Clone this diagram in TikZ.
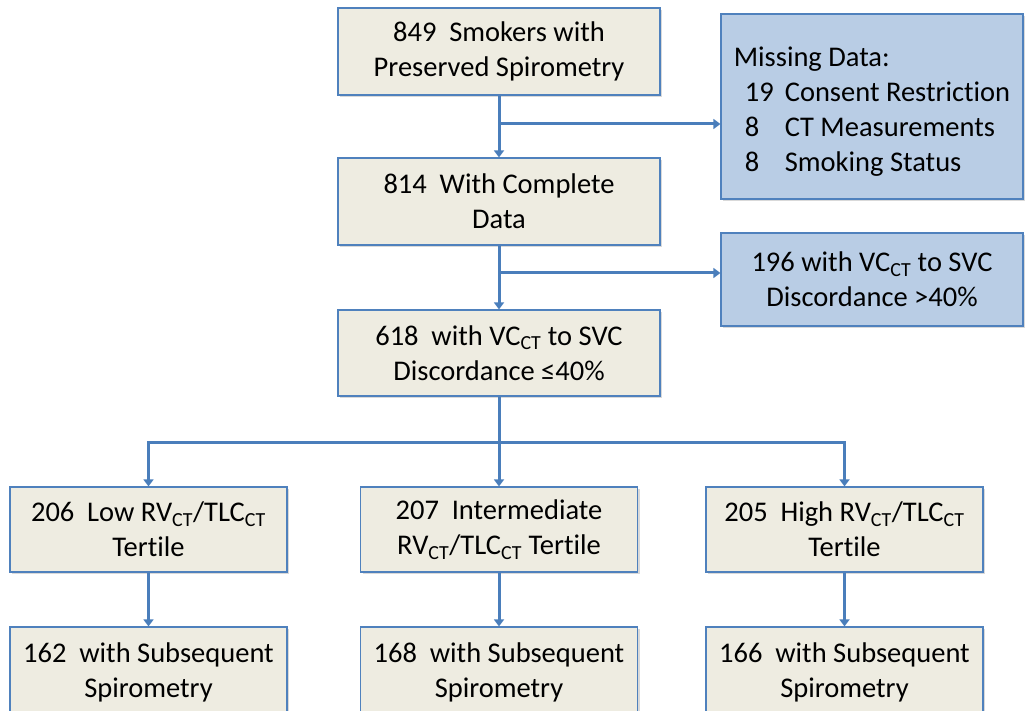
\documentclass[tikz,border=0pt]{standalone}
\usepackage{fontspec}
\setmainfont{Carlito}[Ligatures={NoCommon,NoRare}]
\usetikzlibrary{arrows.meta,shadows}
\definecolor{boxfill}{HTML}{EEECE1}
\definecolor{boxline}{HTML}{4F81BD}
\definecolor{bluefill}{HTML}{B9CDE5}
\definecolor{connc}{HTML}{4A7EBB}
\tikzset{
  basebox/.style={draw=boxline, line width=1.2pt, inner sep=0pt, align=center,
    font=\fontsize{28.5}{35}\selectfont,
    drop shadow={opacity=0.3, shadow xshift=2pt, shadow yshift=-2pt}},
  tanbox/.style={basebox, fill=boxfill},
  bluebox/.style={basebox, fill=bluefill},
  conn/.style={draw=connc, line width=3pt},
  arr/.style={conn, -{Triangle[width=10pt,length=7pt]}}
}
\newcommand{\gap}{\hspace{0.45em}}
\newcommand{\sub}[1]{\textsubscript{#1}}
\begin{document}
\begin{tikzpicture}[x=1pt,y=-1pt]
\useasboundingbox (0,0) rectangle (1025,711);
\clip (0,0) rectangle (1025,711);
\node[tanbox, minimum width=322pt, minimum height=87pt] (A) at (499,51.5) {849\gap Smokers with\\Preserved Spirometry};
\node[tanbox, minimum width=322pt, minimum height=87pt] (B) at (499,201.5) {814\gap With Complete\\Data};
\node[tanbox, minimum width=322pt, minimum height=86pt] (C) at (499,353) {618\gap with VC\sub{CT} to SVC\\Discordance ≤40\%};
\node[bluebox, minimum width=302pt, minimum height=185pt, align=left] (M) at (872,106.5)
  {\rule{0pt}{30pt}Missing Data:\hspace*{4pt}\\
   \hspace*{11pt}\makebox[40pt][l]{19}Consent Restriction\hspace*{-4pt}\\
   \hspace*{11pt}\makebox[40pt][l]{8}CT Measurements\\
   \hspace*{11pt}\makebox[40pt][l]{8}Smoking Status};
\node[bluebox, minimum width=302pt, minimum height=93pt] (D) at (872,279.5) {196 with VC\sub{CT} to SVC\\Discordance >40\%};
\node[tanbox, minimum width=277pt, minimum height=85pt] (T1) at (148.5,529.5) {206\gap Low RV\sub{CT}/TLC\sub{CT}\\Tertile};
\node[tanbox, minimum width=277pt, minimum height=85pt] (T2) at (499,529.5) {207\gap Intermediate\\RV\sub{CT}/TLC\sub{CT} Tertile};
\node[tanbox, minimum width=277pt, minimum height=85pt] (T3) at (844.5,529.5) {205\gap High RV\sub{CT}/TLC\sub{CT}\\Tertile};
\node[tanbox, minimum width=277pt, minimum height=90pt] (S1) at (148.5,672) {162\gap with Subsequent\\Spirometry};
\node[tanbox, minimum width=277pt, minimum height=90pt] (S2) at (499,672) {168\gap with Subsequent\\Spirometry};
\node[tanbox, minimum width=277pt, minimum height=90pt] (S3) at (844.5,672) {166\gap with Subsequent\\Spirometry};
\coordinate (j1) at (499,124);
\coordinate (j2) at (499,273);
\coordinate (j3) at (499,442);
\draw[arr] (A.south) -- (B.north);
\draw[arr] (j1) -- (j1 -| M.west);
\draw[arr] (B.south) -- (C.north);
\draw[arr] (j2) -- (j2 -| D.west);
\draw[arr] (C.south) -- (T2.north);
\draw[arr] (j3) -| (T1.north);
\draw[arr] (j3) -| (T3.north);
\draw[arr] (T1.south) -- (S1.north);
\draw[arr] (T2.south) -- (S2.north);
\draw[arr] (T3.south) -- (S3.north);
\end{tikzpicture}
\end{document}
